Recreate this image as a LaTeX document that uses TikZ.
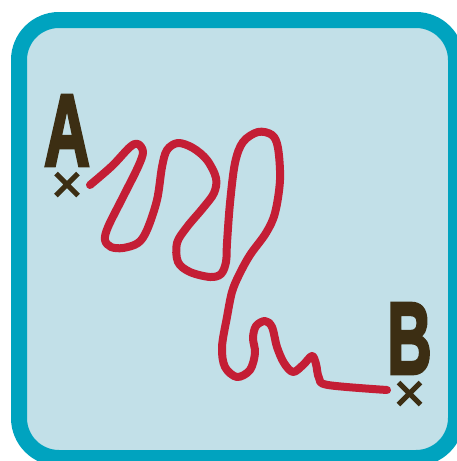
\documentclass[tikz,border=0pt]{standalone}
\usepackage{fontspec}
\usepackage{tikz}
\usetikzlibrary{shapes.misc}
\newfontfamily\labelfont{Liberation Sans}[FakeBold=3.5]
\definecolor{framecol}{HTML}{00A3BF}
\definecolor{panelcol}{HTML}{C2E0E8}
\definecolor{routecol}{HTML}{C41E35}
\definecolor{markcol}{HTML}{3C2E13}
\tikzset{
  panel/.style={line width=16pt, draw=framecol, fill=panelcol, rounded corners=40pt},
  endletter/.style={inner sep=0pt, text=markcol, font=\labelfont\bfseries\fontsize{102}{102}\selectfont},
  endmark/.style={cross out, draw=markcol, line width=5pt, minimum size=17pt, inner sep=0pt},
  route/.style={draw=routecol, line width=8pt, line cap=round, line join=round}
}
\begin{document}
\begin{tikzpicture}[x=1pt, y=-1pt]
  \useasboundingbox (0,0) rectangle (457,461);
  \clip (0,0) rectangle (457,461);
  \draw[panel] (19,20) rectangle (456,458);

  \node[endletter] (A) at (67,130.5) {\scalebox{0.62}[1]{A}};
  \node[endmark] (markA) at (67,184.5) {};
  \node[endletter] (B) at (409.5,338.5) {\scalebox{0.6}[1]{B}};
  \node[endmark] (markB) at (409.5,393.5) {};

  \coordinate (start) at (90,185);
  \coordinate (finish) at (387,390);

  \draw[route] plot[smooth, tension=0.55] coordinates {
    (start) (112,166) (130,147) (138,144) (143,152) (138,167) (123,197)
    (108,227) (105,240) (111,247) (123,248) (138,243) (147,230) (157,200)
    (162,167) (167,150) (178,143) (193,148) (207,160) (216,178) (214,193)
    (203,208) (187,227) (177,243) (178,262) (190,272) (210,277) (221,274)
    (226,262) (227,243) (230,203) (235,163) (243,142) (258,132) (272,135)
    (278,148) (280,180) (275,213) (266,233) (250,255) (239,275) (232,292)
    (227,317) (222,347) (225,367) (237,377) (250,370) (255,353) (253,338)
    (256,326) (265,321) (272,327) (277,347) (284,363) (293,372) (303,365)
    (312,356) (316,364) (319,378) (328,385) (finish)};
\end{tikzpicture}
\end{document}
